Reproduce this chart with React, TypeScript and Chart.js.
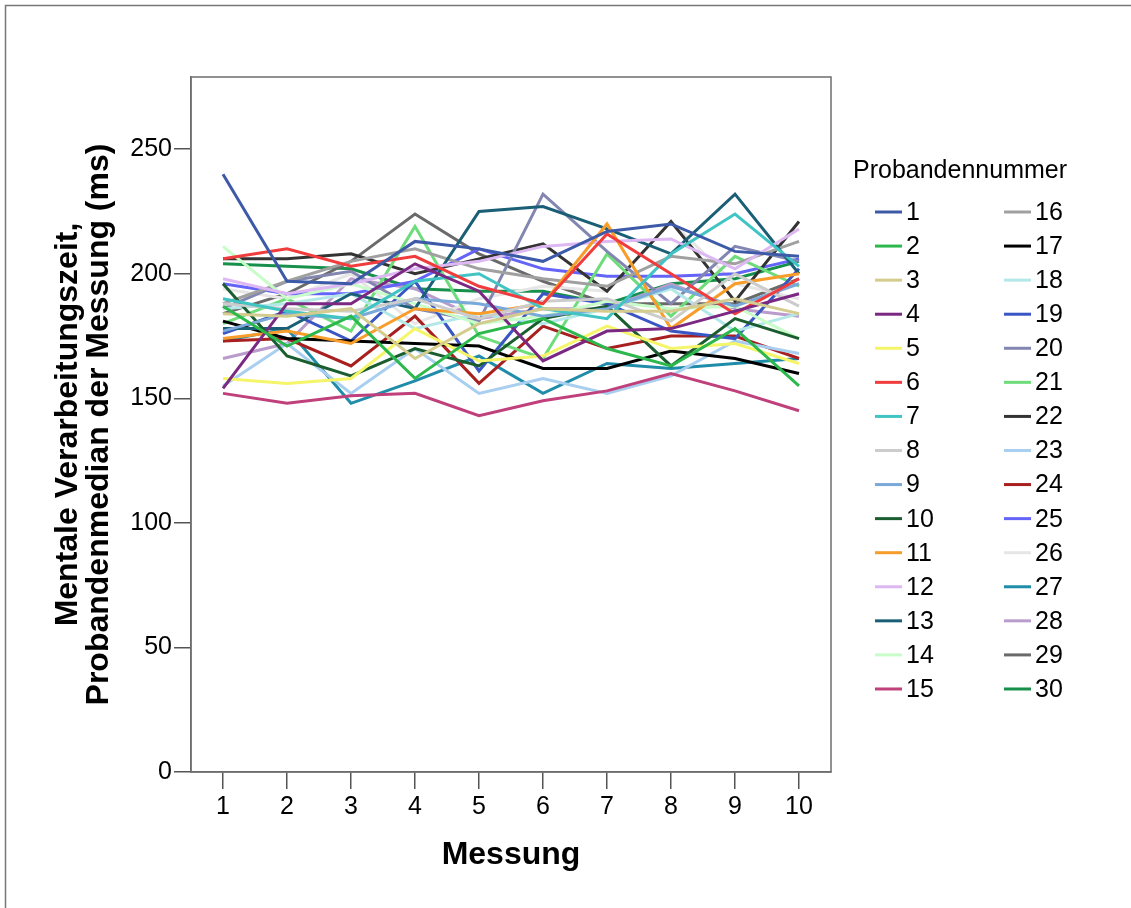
import React, { useEffect, useRef } from "react";
import { Chart, registerables } from "chart.js";

Chart.register(...registerables);

const MEASUREMENTS = ["1", "2", "3", "4", "5", "6", "7", "8", "9", "10"];
const Y_TICKS = [0, 50, 100, 150, 200, 250];
const LEGEND_TITLE = "Probandennummer";
const X_TITLE = "Messung";
const Y_TITLE = ["Mentale Verarbeitungszeit,", "Probandenmedian der Messung (ms)"];

const P1 = [240, 197, 196, 213, 210, 205, 217, 220, 209, 207];
const P2 = [187, 171, 183, 158, 176, 182, 170, 163, 178, 155];
const P3 = [184, 183, 186, 166, 180, 186, 185, 185, 190, 184];
const P4 = [154, 188, 188, 204, 193, 165, 177, 178, 185, 192];
const P5 = [158, 156, 158, 178, 165, 167, 179, 170, 172, 164];
const P6 = [206, 210, 203, 207, 195, 188, 216, 200, 184, 198];
const P7 = [190, 185, 182, 197, 200, 186, 182, 208, 224, 203];
const P8 = [188, 186, 185, 190, 182, 189, 190, 181, 200, 187];
const P9 = [177, 184, 182, 190, 188, 183, 186, 195, 187, 196];
const P10 = [196, 167, 159, 170, 163, 182, 187, 163, 182, 174];
const P11 = [174, 177, 172, 186, 184, 188, 220, 178, 196, 200];
const P12 = [198, 192, 196, 202, 205, 211, 213, 214, 202, 218];
const P13 = [178, 178, 192, 186, 225, 227, 218, 208, 232, 200];
const P14 = [211, 190, 196, 188, 180, 183, 189, 186, 187, 174];
const P15 = [152, 148, 151, 152, 143, 149, 153, 160, 153, 145];
const P16 = [188, 197, 205, 210, 202, 198, 195, 207, 204, 213];
const P17 = [181, 174, 173, 172, 171, 162, 162, 169, 166, 160];
const P18 = [186, 188, 192, 178, 184, 180, 186, 194, 177, 184];
const P19 = [176, 185, 173, 197, 161, 192, 188, 177, 174, 202];
const P20 = [186, 197, 201, 186, 181, 232, 209, 188, 211, 205];
const P21 = [180, 190, 177, 219, 175, 166, 208, 183, 207, 195];
const P22 = [206, 206, 208, 200, 206, 212, 193, 221, 189, 221];
const P23 = [155, 172, 152, 170, 152, 158, 152, 159, 173, 168];
const P24 = [173, 174, 163, 183, 156, 179, 170, 175, 175, 166];
const P25 = [196, 192, 192, 197, 210, 202, 199, 199, 200, 206];
const P26 = [194, 190, 200, 180, 190, 195, 193, 221, 196, 190];
const P27 = [173, 178, 148, 157, 167, 152, 164, 162, 164, 166];
const P28 = [166, 172, 198, 194, 182, 186, 186, 196, 186, 183];
const P29 = [184, 192, 205, 224, 208, 197, 188, 188, 188, 198];
const P30 = [204, 203, 202, 194, 193, 193, 188, 196, 198, 205];

const SERIES = [P1, P2, P3, P4, P5, P6, P7, P8, P9, P10, P11, P12, P13, P14, P15,
  P16, P17, P18, P19, P20, P21, P22, P23, P24, P25, P26, P27, P28, P29, P30];
const SERIES_NAMES = SERIES.map((_, i) => String(i + 1));
const COLORS = [
  "#3d5aa8", "#2db84d", "#d4cc8e", "#7a2882", "#f5f56a", "#f03c3c", "#40c4c4", "#cccccc",
  "#7aa8d8", "#1a5e30", "#f89c2a", "#ddb8f2", "#1a5f75", "#c8fcc8", "#c0407c",
  "#a0a0a0", "#000000", "#b4e8e8", "#3a55c4", "#8286b0", "#6edc7a", "#333333", "#a8cef0",
  "#a81f1f", "#6464f8", "#e6e6e6", "#1f8caa", "#b99ccc", "#6a6a6a", "#17904c",
];

const FONT = "'Liberation Sans', Arial, sans-serif";

const framePlugin = {
  id: "frameAndLegend",
  beforeDraw(chart: any) {
    const { ctx, width, height } = chart;
    ctx.save();
    ctx.fillStyle = "#ffffff";
    ctx.fillRect(0, 0, width, height);
    ctx.strokeStyle = "#777777";
    ctx.lineWidth = 1.5;
    ctx.strokeRect(5.5, 5.5, width + 20, height + 20);
    ctx.restore();
  },
  afterDraw(chart: any) {
    const { ctx, chartArea } = chart;
    ctx.save();
    ctx.strokeStyle = "#6e6e6e";
    ctx.lineWidth = 1.5;
    ctx.strokeRect(chartArea.left, chartArea.top, chartArea.right - chartArea.left, chartArea.bottom - chartArea.top);

    // legend
    ctx.fillStyle = "#000000";
    ctx.font = `25px ${FONT}`;
    ctx.textBaseline = "middle";
    ctx.textAlign = "left";
    ctx.fillText(LEGEND_TITLE, 853, 171);
    const ds = chart.data.datasets;
    const perCol = 15;
    const rowH = 34.07;
    ds.forEach((d: any, i: number) => {
      const col = Math.floor(i / perCol);
      const row = i % perCol;
      const y = 212 + row * rowH;
      const x0 = col === 0 ? 875 : 1004;
      ctx.strokeStyle = d.borderColor;
      ctx.lineWidth = 3;
      ctx.beginPath();
      ctx.moveTo(x0, y);
      ctx.lineTo(x0 + 27, y);
      ctx.stroke();
      ctx.fillStyle = "#000000";
      ctx.fillText(d.label, x0 + 31, y + 1);
    });
    ctx.restore();
  },
};

export default function App() {
  const ref = useRef<HTMLCanvasElement | null>(null);
  useEffect(() => {
    document.body.style.margin = "0";
    const canvas = ref.current!;
    const chart = new Chart(canvas, {
      type: "line",
      data: {
        labels: MEASUREMENTS,
        datasets: SERIES.map((s, i) => ({
          label: SERIES_NAMES[i],
          data: s,
          borderColor: COLORS[i],
          backgroundColor: COLORS[i],
          borderWidth: 3,
          pointRadius: 0,
          tension: 0,
          fill: false,
        })),
      },
      options: {
        animation: false,
        responsive: false,
        devicePixelRatio: 1,
        layout: { padding: { left: 53, top: 77, right: 300, bottom: 36 } },
        plugins: { legend: { display: false }, tooltip: { enabled: false } },
        scales: {
          x: {
            type: "category",
            offset: true,
            afterFit: (s: any) => { s.height = 100; },
            grid: { drawOnChartArea: false, drawTicks: true, tickLength: 17, color: "#555555", lineWidth: 1.5 },
            border: { display: true, color: "#6e6e6e", width: 1.5 },
            ticks: { color: "#000000", font: { family: FONT, size: 25 }, padding: 3, maxRotation: 0 },
            title: { display: true, text: X_TITLE, color: "#000000", font: { family: FONT, size: 32, weight: "bold", lineHeight: 1 }, padding: { top: 0, bottom: 1 } },
          },
          y: {
            type: "linear",
            min: 0,
            max: 279,
            afterFit: (s: any) => { s.width = 191 - 53; },
            afterBuildTicks: (s: any) => { s.ticks = Y_TICKS.map((v) => ({ value: v })); },
            grid: { drawOnChartArea: false, drawTicks: true, tickLength: 17, color: "#555555", lineWidth: 1.5 },
            border: { display: true, color: "#6e6e6e", width: 1.5 },
            ticks: { color: "#000000", font: { family: FONT, size: 25 }, padding: 2 },
            title: { display: true, text: Y_TITLE, color: "#000000", font: { family: FONT, size: 32, weight: "bold", lineHeight: 0.97 }, padding: { top: 0, bottom: 0 } },
          },
        },
      },
      plugins: [framePlugin],
    } as any);
    return () => chart.destroy();
  }, []);
  return (
    <div style={{ width: 1131, height: 908 }}>
      <canvas ref={ref} width={1131} height={908} style={{ display: "block" }} />
    </div>
  );
}
